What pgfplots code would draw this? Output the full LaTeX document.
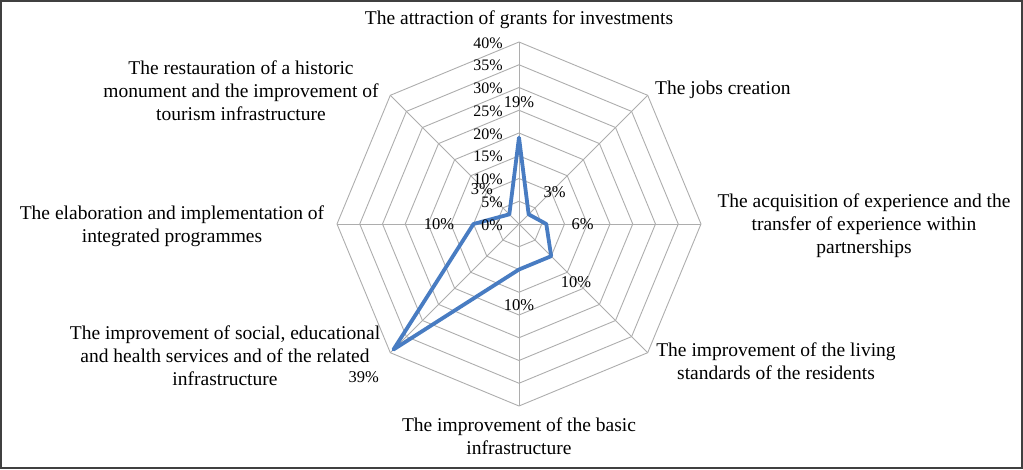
\documentclass[border=0pt]{standalone}
\usepackage{fontspec}
\setmainfont{Liberation Serif}
\usepackage{pgfplots}
\pgfplotsset{compat=1.18}
\usepgfplotslibrary{polar}
\definecolor{lineblue}{RGB}{72,124,194}
\begin{document}
\begin{tikzpicture}
\useasboundingbox (-519pt,-245pt) rectangle (504pt,224pt);
\draw[line width=1.3pt, black!75] (-518pt,-244pt) rectangle (503pt,223pt);
\begin{polaraxis}[
  at={(0pt,0pt)}, anchor=center,
  scale only axis, width=364pt, height=364pt,
  xmin=0, xmax=360, ymin=0, ymax=40,
  hide axis, clip=false,
]
\pgfplotsinvokeforeach{5,10,15,20,25,30,35,40}{
  \addplot[black!32, line width=0.9pt] coordinates {(0,#1)(45,#1)(90,#1)(135,#1)(180,#1)(225,#1)(270,#1)(315,#1)(360,#1)};
}
\pgfplotsinvokeforeach{0,45,90,135,180,225,270,315}{
  \addplot[black!32, line width=0.9pt] coordinates {(#1,0)(#1,40)};
}
\addplot[lineblue, line width=3.8pt, line join=round, line cap=round]
  coordinates {(90,19)(45,3)(0,6)(315,10)(270,10)(225,39)(180,10)(135,3)(90,19)};
% radial tick labels
\pgfplotsinvokeforeach{0,5,10,15,20,25,30,35,40}{
  \node[anchor=east, font=\fontsize{16}{18}\selectfont, inner sep=0pt, xshift=-16pt, yshift=-1pt] at (axis cs:90,#1) {#1\%};
}
% data labels
\node[font=\fontsize{16.5}{18}\selectfont] at (axis cs:90,26.8) {19\%};
\node[font=\fontsize{16.5}{18}\selectfont] at (axis cs:41.6,10.5) {3\%};
\node[font=\fontsize{16.5}{18}\selectfont] at (axis cs:0,14) {6\%};
\node[font=\fontsize{16.5}{18}\selectfont] at (axis cs:314.5,17.9) {10\%};
\node[font=\fontsize{16.5}{18}\selectfont] at (axis cs:270,17.8) {10\%};
\node[font=\fontsize{16.5}{18}\selectfont] at (axis cs:224.6,47.9) {39\%};
\node[font=\fontsize{16.5}{18}\selectfont] at (axis cs:180,17.6) {10\%};
\node[font=\fontsize{16.5}{18}\selectfont] at (axis cs:136.6,11.2) {3\%};
\end{polaraxis}
% category labels
\begin{scope}[every node/.style={font=\fontsize{19.5}{23}\selectfont, align=center, inner sep=0pt}]
\node at (0pt,204pt) {The attraction of grants for investments};
\node[anchor=west] at (136pt,134pt) {The jobs creation};
\node at (345pt,-2pt) {The acquisition of experience and the\\transfer of experience within\\partnerships};
\node at (257pt,-137pt) {The improvement of the living\\standards of the residents};
\node at (0pt,-212pt) {The improvement of the basic\\infrastructure};
\node at (-294pt,-132pt) {The improvement of social, educational\\and health services and of the related\\infrastructure};
\node at (-347pt,-2pt) {The elaboration and implementation of\\integrated programmes};
\node at (-278pt,133pt) {The restauration of a historic\\monument and the improvement of\\tourism infrastructure};
\end{scope}
\end{tikzpicture}
\end{document}
